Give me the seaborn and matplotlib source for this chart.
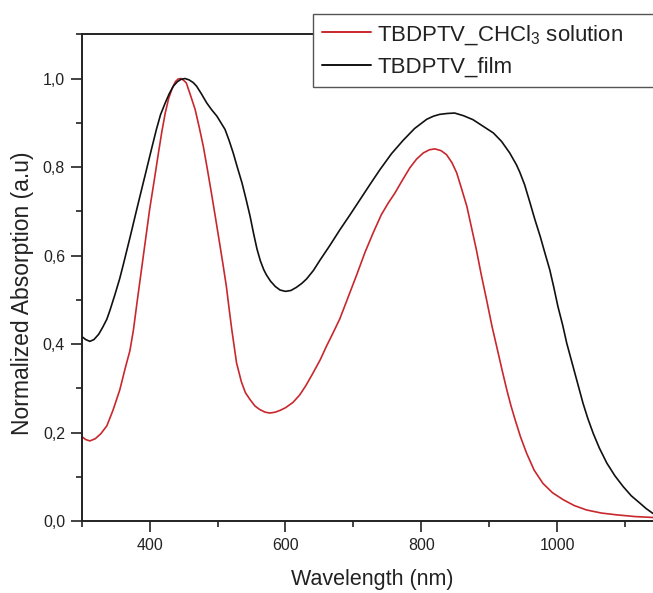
import matplotlib
matplotlib.use("Agg")
import matplotlib.pyplot as plt
from matplotlib.ticker import MultipleLocator, FixedLocator, FixedFormatter
import seaborn as sns
import pandas as pd

# ---- data ----
solution_wl = [300, 306, 312, 320, 328, 337, 346, 356, 364, 371, 376, 382, 388, 394, 400,
               407, 413, 418, 423, 428, 433, 438, 442, 446, 450, 454, 460, 467, 473, 479,
               485, 491, 497, 503, 508, 513, 517, 521, 528, 535, 541, 548, 555, 562, 570,
               577, 585, 592, 600, 611, 621, 630, 640, 651, 660, 670, 680, 692, 705, 717,
               729, 741, 751, 761, 772, 783, 793, 803, 812, 820, 829, 837, 845, 852, 859,
               867, 874, 881, 888, 896, 904, 912, 919, 926, 932, 938, 946, 955, 966, 979,
               993, 1009, 1025, 1043, 1065, 1087, 1115, 1141]
solution_abs = [0.191, 0.184, 0.181, 0.186, 0.197, 0.215, 0.250, 0.296, 0.345, 0.385, 0.430,
                0.500, 0.568, 0.636, 0.704, 0.772, 0.832, 0.880, 0.922, 0.955, 0.977, 0.993,
                0.999, 1.000, 0.996, 0.990, 0.963, 0.930, 0.890, 0.847, 0.795, 0.741, 0.685,
                0.628, 0.580, 0.530, 0.480, 0.432, 0.357, 0.315, 0.290, 0.274, 0.260, 0.252,
                0.246, 0.244, 0.246, 0.250, 0.256, 0.268, 0.285, 0.306, 0.333, 0.364, 0.394,
                0.425, 0.457, 0.505, 0.557, 0.607, 0.651, 0.692, 0.718, 0.741, 0.770, 0.798,
                0.818, 0.832, 0.839, 0.841, 0.837, 0.828, 0.810, 0.787, 0.752, 0.711, 0.662,
                0.613, 0.558, 0.500, 0.440, 0.387, 0.340, 0.295, 0.260, 0.229, 0.190, 0.153,
                0.115, 0.085, 0.064, 0.048, 0.035, 0.025, 0.018, 0.014, 0.010, 0.008]

film_wl = [300, 306, 312, 318, 325, 331, 337, 342, 349, 356, 361, 371, 381, 388, 396, 403,
           410, 416, 423, 429, 435, 441, 446, 452, 458, 464, 469, 476, 484, 491, 499, 505,
           511, 517, 523, 529, 536, 542, 548, 553, 558, 563, 568, 572, 578, 585, 592, 600,
           608, 616, 624, 631, 641, 651, 665, 680, 695, 710, 725, 739, 756, 773, 790, 808,
           818, 827, 838, 849, 862, 876, 891, 906, 918, 930, 940, 945, 952, 960, 967, 975,
           982, 989, 995, 1001, 1008, 1014, 1020, 1026, 1032, 1038, 1045, 1053, 1062, 1073,
           1085, 1097, 1109, 1122, 1131, 1141]
film_abs = [0.417, 0.410, 0.406, 0.410, 0.422, 0.438, 0.456, 0.478, 0.512, 0.548, 0.578,
            0.640, 0.704, 0.748, 0.798, 0.842, 0.885, 0.918, 0.945, 0.966, 0.983, 0.993,
            0.998, 1.000, 0.997, 0.991, 0.983, 0.966, 0.945, 0.930, 0.915, 0.900, 0.885,
            0.860, 0.832, 0.800, 0.764, 0.727, 0.688, 0.650, 0.615, 0.588, 0.568, 0.556,
            0.542, 0.530, 0.522, 0.519, 0.521, 0.528, 0.537, 0.547, 0.566, 0.590, 0.622,
            0.658, 0.692, 0.727, 0.762, 0.794, 0.830, 0.860, 0.887, 0.908, 0.915, 0.919,
            0.921, 0.922, 0.916, 0.907, 0.892, 0.877, 0.858, 0.832, 0.805, 0.788, 0.760,
            0.719, 0.682, 0.643, 0.605, 0.568, 0.528, 0.485, 0.443, 0.402, 0.368, 0.334,
            0.300, 0.266, 0.232, 0.198, 0.165, 0.131, 0.102, 0.078, 0.057, 0.040, 0.028,
            0.017]

series_names = ["TBDPTV_CHCl$_3$ solution", "TBDPTV_film"]
series_colors = ["#c8282d", "#111111"]
xtick_values = [400, 600, 800, 1000]
xtick_labels = ["400", "600", "800", "1000"]
ytick_values = [0.0, 0.2, 0.4, 0.6, 0.8, 1.0]
ytick_labels = ["0,0", "0,2", "0,4", "0,6", "0,8", "1,0"]

df = pd.concat([
    pd.DataFrame({"wl": solution_wl, "abs": solution_abs, "series": series_names[0]}),
    pd.DataFrame({"wl": film_wl, "abs": film_abs, "series": series_names[1]}),
], ignore_index=True)

sns.set_style("white")
plt.rcParams["font.family"] = ["Liberation Sans", "DejaVu Sans"]
plt.rcParams["mathtext.fontset"] = "custom"
plt.rcParams["mathtext.rm"] = "Liberation Sans"
plt.rcParams["mathtext.it"] = "Liberation Sans"

fig = plt.figure(figsize=(6.53, 5.93), dpi=100)
ax = fig.add_axes([0.1251, 0.1214, 0.8749, 0.8208])

sns.lineplot(data=df, x="wl", y="abs", hue="series", hue_order=series_names,
             palette=dict(zip(series_names, series_colors)), estimator=None, sort=False,
             linewidth=1.2, ax=ax)

ax.set_xlim(300, 1141)
ax.set_ylim(0, 1.1)

ax.xaxis.set_major_locator(FixedLocator(xtick_values))
ax.xaxis.set_major_formatter(FixedFormatter(xtick_labels))
ax.xaxis.set_minor_locator(MultipleLocator(100))
ax.yaxis.set_major_locator(FixedLocator(ytick_values))
ax.yaxis.set_major_formatter(FixedFormatter(ytick_labels))
ax.yaxis.set_minor_locator(MultipleLocator(0.1))

ax.tick_params(which="both", direction="out", bottom=True, left=True, top=False, right=False,
               color="#222222", width=1.2)
ax.tick_params(which="major", length=8, labelsize=11.5, pad=4, labelcolor="#222222")
ax.tick_params(which="minor", length=4)

for s in ["left", "bottom", "top"]:
    ax.spines[s].set_color("#222222")
    ax.spines[s].set_linewidth(1.4)
ax.spines["right"].set_visible(False)

ax.set_xlabel("Wavelength (nm)", fontsize=15.5, color="#222222")
ax.set_ylabel("Normalized Absorption (a.u)", fontsize=16.5, color="#222222")
ax.xaxis.set_label_coords(0.508, -0.098)
ax.yaxis.set_label_coords(-0.083, 0.468)

leg = ax.legend(loc="upper left", bbox_to_anchor=(0.4793, 0.8533, 0.6, 0.1231),
                bbox_transform=fig.transFigure, mode="expand", borderaxespad=0,
                fontsize=16, frameon=True, fancybox=False, framealpha=1,
                edgecolor="#555555", handlelength=2.2, handletextpad=0.3,
                labelspacing=0.48, borderpad=0.4)
leg.get_frame().set_linewidth(1.0)
for t in leg.get_texts():
    t.set_color("#222222")
for line in leg.get_lines():
    line.set_linewidth(1.4)

fig.savefig("out.png", dpi=100)
